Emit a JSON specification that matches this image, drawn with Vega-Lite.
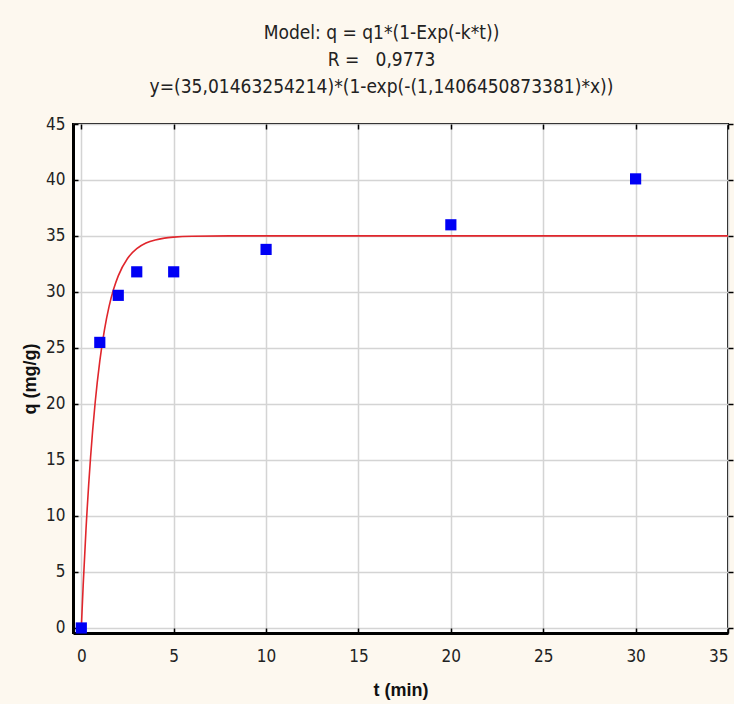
{
  "$schema": "https://vega.github.io/schema/vega-lite/v6.json",
  "autosize": {"type": "none"},
  "width": 655,
  "height": 509,
  "padding": {"left": 73, "top": 124, "right": 6, "bottom": 71},
  "background": "#fdf8ef",
  "title": {
    "text": ["Model: q = q1*(1-Exp(-k*t))", "R =\u00a0\u00a0 0,9773", "y=(35,01463254214)*(1-exp(-(1,1406450873381)*x))"],
    "anchor": "middle",
    "dx": -19,
    "offset": 18,
    "font": "DejaVu Sans Condensed, Liberation Sans Narrow, sans-serif",
    "fontSize": 19,
    "fontWeight": "normal",
    "color": "#222222",
    "lineHeight": 27
  },
  "config": {
    "view": {"fill": "white", "stroke": "black", "strokeWidth": 2},
    "axis": {
      "labelFont": "DejaVu Sans Condensed, Liberation Sans Narrow, sans-serif",
      "labelFontSize": 17,
      "labelColor": "#222222",
      "titleFont": "Liberation Sans, Arial, sans-serif",
      "titleFontSize": 18,
      "titleFontWeight": "bold",
      "titleColor": "#111111",
      "domainColor": "black",
      "domainWidth": 3,
      "tickColor": "black",
      "tickWidth": 1.5,
      "gridColor": "#d4d4d4",
      "gridWidth": 1.5,
      "gridOpacity": 1
    }
  },
  "datasets": {
    "obs": [
      {"t": 0, "q": 0},
      {"t": 1, "q": 25.5},
      {"t": 2, "q": 29.7},
      {"t": 3, "q": 31.8},
      {"t": 5, "q": 31.8},
      {"t": 10, "q": 33.8},
      {"t": 20, "q": 36.0},
      {"t": 30, "q": 40.1}
    ],
    "fit": [
      {"t": 0, "q": 0},
      {"t": 0.1, "q": 3.78},
      {"t": 0.25, "q": 8.69},
      {"t": 0.5, "q": 15.22},
      {"t": 0.75, "q": 20.13},
      {"t": 1, "q": 23.82},
      {"t": 1.25, "q": 26.6},
      {"t": 1.5, "q": 28.69},
      {"t": 1.75, "q": 30.26},
      {"t": 2, "q": 31.44},
      {"t": 2.5, "q": 32.99},
      {"t": 3, "q": 33.87},
      {"t": 3.5, "q": 34.37},
      {"t": 4, "q": 34.65},
      {"t": 4.5, "q": 34.81},
      {"t": 5, "q": 34.9},
      {"t": 6, "q": 34.98},
      {"t": 8, "q": 35.01},
      {"t": 35, "q": 35.01}
    ]
  },
  "layer": [
    {
      "data": {"name": "fit"},
      "mark": {"type": "line", "color": "#e0262c", "strokeWidth": 1.6, "interpolate": "monotone", "clip": true},
      "encoding": {
        "x": {
          "field": "t", "type": "quantitative",
          "scale": {"domain": [-0.45, 35], "nice": false, "zero": false},
          "axis": {"title": "t (min)", "values": [0, 5, 10, 15, 20, 25, 30, 35], "tickSize": -5, "labelPadding": 20, "titlePadding": 17, "grid": true}
        },
        "y": {
          "field": "q", "type": "quantitative",
          "scale": {"domain": [-0.45, 45], "nice": false, "zero": false},
          "axis": {"title": "q (mg/g)", "values": [0, 5, 10, 15, 20, 25, 30, 35, 40, 45], "tickSize": -5, "labelPadding": 13, "titlePadding": 6, "grid": true}
        }
      }
    },
    {
      "data": {"name": "obs"},
      "mark": {"type": "point", "shape": "square", "filled": true, "color": "#0000f5", "size": 125, "opacity": 1},
      "encoding": {
        "x": {
          "field": "t", "type": "quantitative",
          "axis": {"orient": "top", "title": null, "labels": false, "values": [0, 5, 10, 15, 20, 25, 30, 35], "tickSize": -5, "grid": false, "domain": false}
        },
        "y": {
          "field": "q", "type": "quantitative",
          "axis": {"orient": "right", "title": null, "labels": false, "values": [0, 5, 10, 15, 20, 25, 30, 35, 40, 45], "tickSize": 5, "grid": false, "domain": false}
        }
      }
    }
  ],
  "resolve": {"axis": {"x": "independent", "y": "independent"}}
}
